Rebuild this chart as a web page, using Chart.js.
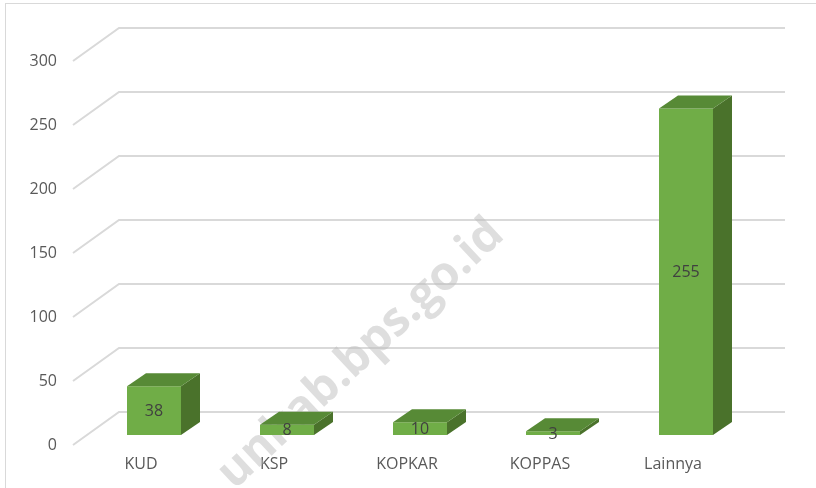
<!DOCTYPE html>
<html>
<head>
<meta charset="utf-8">
<script src="https://cdn.jsdelivr.net/npm/chart.js@4/dist/chart.umd.min.js"></script>
<style>
  html, body { margin: 0; padding: 0; background: #ffffff; }
  #wrap { width: 816px; height: 488px; position: relative; }
</style>
</head>
<body>
<div id="wrap"><canvas id="c" width="816" height="488"></canvas></div>
<script>
const categories = ['KUD', 'KSP', 'KOPKAR', 'KOPPAS', 'Lainnya'];
const values = [38, 8, 10, 3, 255];
const yMin = 0;
const yMax = 300;
const yStep = 50;
const watermarkText = 'unkab.bps.go.id';

const FONT = "'Open Sans', 'DejaVu Sans', sans-serif";
const DEPTH_X = 19, DEPTH_Y = -13;

const frame3d = {
  id: 'frame3d',
  beforeDatasetsDraw(chart) {
    const ctx = chart.ctx;
    const y = chart.scales.y;
    const area = chart.chartArea;
    ctx.save();
    // outer border
    ctx.strokeStyle = '#d9d9d9';
    ctx.lineWidth = 1;
    ctx.strokeRect(5.5, 3.5, 900, 700);
    // perspective gridlines
    ctx.strokeStyle = '#d9d9d9';
    ctx.lineWidth = 2;
    y.ticks.forEach(t => {
      const py = y.getPixelForValue(t.value);
      ctx.beginPath();
      ctx.moveTo(73, py + 10);
      ctx.lineTo(119, py - 23);
      ctx.lineTo(area.right + 32.5, py - 23);
      ctx.stroke();
    });
    ctx.restore();
    // watermark (behind bars)
    ctx.save();
    ctx.translate(361, 354);
    ctx.rotate(-43 * Math.PI / 180);
    ctx.fillStyle = 'rgba(190,190,190,0.5)';
    ctx.font = 'bold 47px ' + FONT;
    ctx.textAlign = 'center';
    ctx.textBaseline = 'middle';
    ctx.fillText(watermarkText, 0, 0);
    ctx.restore();
  },
  afterDatasetsDraw(chart) {
    const ctx = chart.ctx;
    const meta = chart.getDatasetMeta(0);
    ctx.save();
    meta.data.forEach((bar, i) => {
      const w = bar.width;
      const l = bar.x - w / 2, r = bar.x + w / 2;
      const top = bar.y, bot = bar.base;
      // side face
      ctx.fillStyle = '#4a722b';
      ctx.beginPath();
      ctx.moveTo(r, top);
      ctx.lineTo(r + DEPTH_X, top + DEPTH_Y);
      ctx.lineTo(r + DEPTH_X, bot + DEPTH_Y);
      ctx.lineTo(r, bot);
      ctx.closePath();
      ctx.fill();
      // top face
      ctx.fillStyle = '#578a36';
      ctx.beginPath();
      ctx.moveTo(l, top);
      ctx.lineTo(l + DEPTH_X, top + DEPTH_Y);
      ctx.lineTo(r + DEPTH_X, top + DEPTH_Y);
      ctx.lineTo(r, top);
      ctx.closePath();
      ctx.fill();
      // value label
      ctx.fillStyle = '#404040';
      ctx.font = '16px ' + FONT;
      ctx.textAlign = 'center';
      ctx.textBaseline = 'middle';
      ctx.fillText(String(values[i]), bar.x, (top + bot) / 2 + 1);
    });
    ctx.restore();
  }
};

new Chart(document.getElementById('c'), {
  type: 'bar',
  data: {
    labels: categories,
    datasets: [{
      data: values,
      backgroundColor: '#70ad47',
      borderWidth: 0,
      categoryPercentage: 1,
      barPercentage: 0.406
    }]
  },
  options: {
    responsive: false,
    animation: false,
    devicePixelRatio: 1,
    layout: { padding: { left: 0, right: 63.5, top: 51, bottom: 0 } },
    plugins: { legend: { display: false }, tooltip: { enabled: false }, title: { display: false } },
    scales: {
      x: {
        grid: { display: false, drawTicks: false },
        border: { display: false },
        ticks: { color: '#595959', font: { family: FONT, size: 16 }, padding: 20, labelOffset: -13, maxRotation: 0 },
        afterFit(scale) { scale.height = 53; }
      },
      y: {
        min: yMin, max: yMax,
        grid: { display: false, drawTicks: false },
        border: { display: false },
        ticks: { stepSize: yStep, color: '#595959', font: { family: FONT, size: 16 }, padding: 30.5, labelOffset: 10 },
        afterFit(scale) { scale.width = 87.5; }
      }
    }
  },
  plugins: [frame3d]
});
</script>
</body>
</html>
